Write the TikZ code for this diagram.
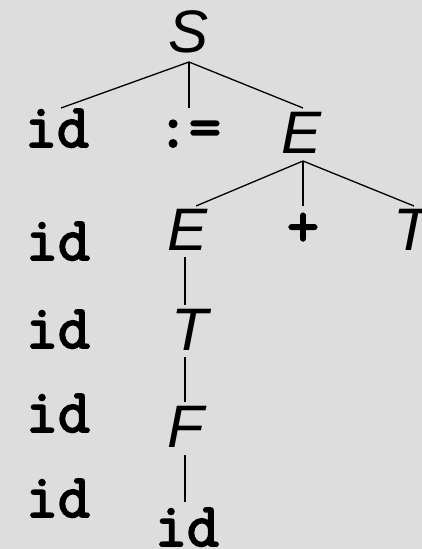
\documentclass[tikz,border=0pt]{standalone}
\usepackage{fontspec}
\setmainfont{Liberation Sans}
\newfontfamily\courfam{Latin Modern Mono}[FakeBold=3]
\definecolor{bgc}{HTML}{DDDDDD}
\tikzset{
  nt/.style={font=\fontsize{60}{60}\selectfont\itshape, inner sep=0pt, anchor=base},
  tm/.style={font=\fontsize{62}{62}\selectfont\courfam, inner sep=0pt, anchor=base},
  edge/.style={line width=1.3pt, black}
}
\begin{document}
\begin{tikzpicture}[x=1pt,y=-1pt]
\fill[bgc] (0,0) rectangle (422,549);
\useasboundingbox (0,0) rectangle (422,549);
\clip (0,0) rectangle (422,549);
% row 0
\node[nt] (S) at (189,52) {S};
\coordinate (Sj) at (189,62);
% row 1
\node[tm] (id1) at (57,147) {id};
\node[tm] (as) at (189,147) {:=};
\node[nt] (E1) at (302,153) {E};
\coordinate (id1t) at (61,108);
\coordinate (ast) at (189,108);
\coordinate (E1t) at (303,108);
\coordinate (E1j) at (303,161);
% row 2
\node[tm] (id2) at (58,260) {id};
\node[nt] (E2) at (188,250) {E};
\node[tm] (plus) at (303,246) {+};
\node[nt] (T1) at (412,250) {T};
\coordinate (E2t) at (196,206);
\coordinate (plust) at (303,206);
\coordinate (T1t) at (414,206);
% row 3
\node[tm] (id3) at (58,348) {id};
\node[nt] (T2) at (190,350) {T};
% row 4
\node[tm] (id4) at (58,432) {id};
\node[nt] (F) at (186,447) {F};
% row 5
\node[tm] (id5) at (58,517) {id};
\node[tm] (id6) at (187,546) {id};
% connectors
\draw[edge] (Sj) -- (id1t);
\draw[edge] (Sj) -- (ast);
\draw[edge] (Sj) -- (E1t);
\draw[edge] (E1j) -- (E2t);
\draw[edge] (E1j) -- (plust);
\draw[edge] (E1j) -- (T1t);
\draw[edge] ([yshift=-7pt]E2.south -| 185,0) -- (185,305);
\draw[edge] (185,357) -- (185,402);
\draw[edge] (185,455) -- (185,502);
\end{tikzpicture}
\end{document}
